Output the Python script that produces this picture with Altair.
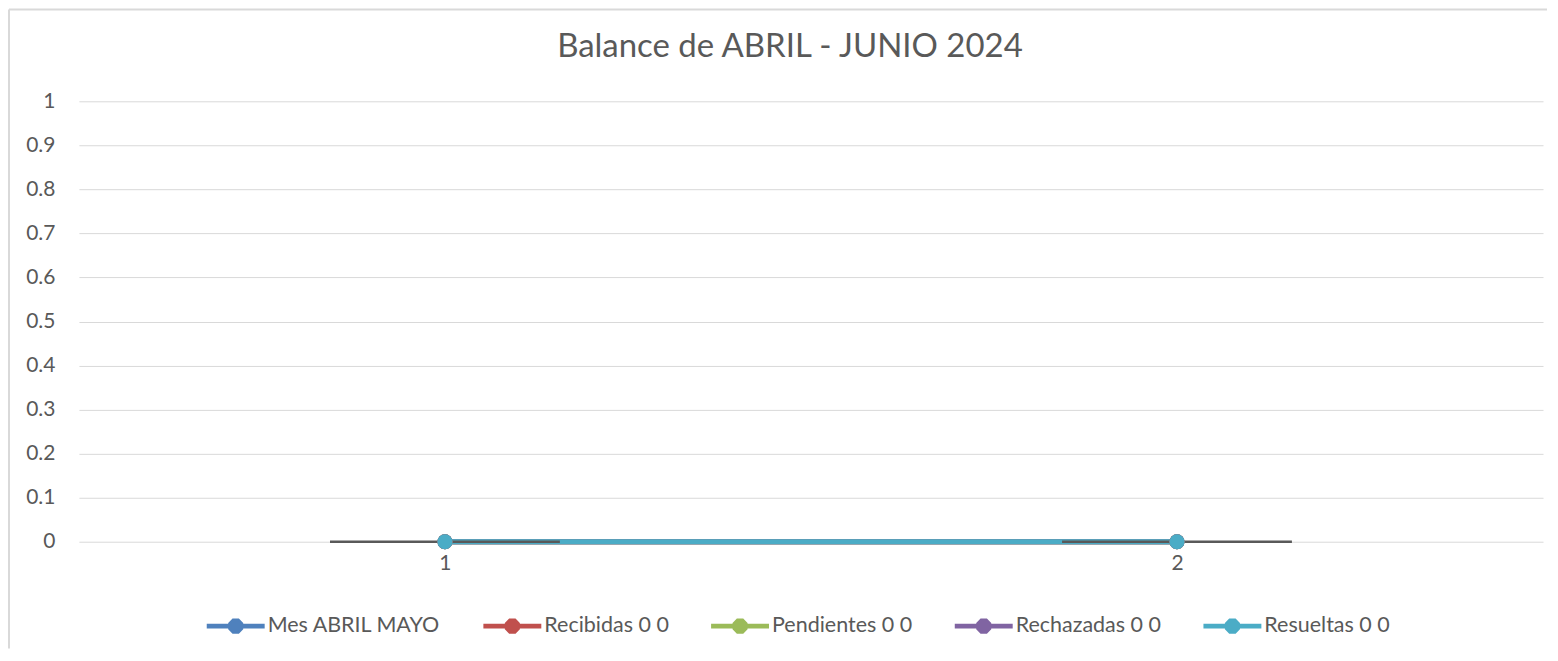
import altair as alt
import pandas as pd

# ---- data ----
categories = [1, 2]
series_names = ["Mes ABRIL MAYO", "Recibidas 0 0", "Pendientes 0 0", "Rechazadas 0 0", "Resueltas 0 0"]
series_values = {
    "Mes ABRIL MAYO": [0, 0],
    "Recibidas 0 0": [0, 0],
    "Pendientes 0 0": [0, 0],
    "Rechazadas 0 0": [0, 0],
    "Resueltas 0 0": [0, 0],
}
series_colors = ["#4F81BD", "#C0504D", "#9BBB59", "#8064A2", "#4BACC6"]
error_values = [0, 0]
error_halfwidth = [0.157, 0.157]
y_ticks = [0, 0.1, 0.2, 0.3, 0.4, 0.5, 0.6, 0.7, 0.8, 0.9, 1]
title_text = "Balance de ABRIL - JUNIO 2024"

rows = []
for s in series_names:
    for c, v in zip(categories, series_values[s]):
        rows.append({"cat": c, "value": v, "series": s})
df = pd.DataFrame(rows)
err_df = pd.DataFrame({
    "cat": categories,
    "value": error_values,
    "lo": [c - h for c, h in zip(categories, error_halfwidth)],
    "hi": [c + h for c, h in zip(categories, error_halfwidth)],
})
title_df = pd.DataFrame({"t": [title_text]})

FONT = "Lato"
TXT = "#595959"

x_scale = alt.Scale(domain=[0.5, 2.5], nice=False, zero=False)
y_scale = alt.Scale(domain=[0, 1], nice=False)
x_axis = alt.Axis(values=categories, format="d", grid=False, domain=False, ticks=False,
                  labelPadding=11, labelFontSize=21, labelColor=TXT, labelFont=FONT, title=None)
y_axis = alt.Axis(values=y_ticks, grid=True, gridColor="#D9D9D9", gridWidth=1, domain=False,
                  ticks=False, labelPadding=24, labelFontSize=21, labelColor=TXT, labelFont=FONT,
                  title=None, labelExpr="format(datum.value, '')")

color_scale = alt.Scale(domain=series_names, range=series_colors)

# line-with-dot legend glyph (bar + octagon dot), 58px wide, right of a 29px slot
legend_path = ("M-1,-0.17 L3,-0.17 L3,0.17 L-1,0.17 Z "
               "M0.78,-0.52 L1.22,-0.52 L1.52,-0.22 L1.52,0.22 L1.22,0.52 L0.78,0.52 "
               "L0.48,0.22 L0.48,-0.22 Z")

base = alt.Chart(df)

lines = base.mark_line(strokeWidth=5).encode(
    x=alt.X("cat:Q", scale=x_scale, axis=x_axis),
    y=alt.Y("value:Q", scale=y_scale, axis=y_axis),
    color=alt.Color("series:N", scale=color_scale),
    order=alt.Order("cat:Q"),
)

errs = alt.Chart(err_df).mark_rule(color="#595959", strokeWidth=2.5).encode(
    x=alt.X("lo:Q", scale=x_scale),
    x2="hi:Q",
    y=alt.Y("value:Q", scale=y_scale),
)

points = base.mark_point(filled=True, size=225, opacity=1).encode(
    x=alt.X("cat:Q", scale=x_scale),
    y=alt.Y("value:Q", scale=y_scale),
    color=alt.Color("series:N", scale=color_scale),
)

# chart frame (left and top edges of the Excel chart area)
frame_left = alt.Chart(title_df).mark_rule(color="#D9D9D9", strokeWidth=2).encode(
    x=alt.value(-70), y=alt.value(-92), y2=alt.value(548))
frame_top = alt.Chart(title_df).mark_rule(color="#D9D9D9", strokeWidth=2).encode(
    x=alt.value(-70), x2=alt.value(1470), y=alt.value(-92))

title = alt.Chart(title_df).mark_text(fontSize=33, font=FONT, color=TXT, align="center",
                                      baseline="middle").encode(
    text="t:N", x=alt.value(712), y=alt.value(-54))

chart = alt.layer(frame_left, frame_top, title, lines, errs, points).properties(
    width=1466, height=441,
    padding={"left": 0, "top": 0, "right": 2, "bottom": 0},
    background="white",
).configure_view(stroke=None).configure_legend(
    title=None, orient="none", legendX=128, legendY=511,
    direction="horizontal", columns=5,
    symbolType=legend_path, symbolSize=841, symbolStrokeWidth=0,
    labelFontSize=21.5, labelFont=FONT, labelColor=TXT, labelOffset=32,
    columnPadding=42, labelLimit=400,
)

chart.save("out.html", embed_options={"renderer": "svg", "actions": False})
